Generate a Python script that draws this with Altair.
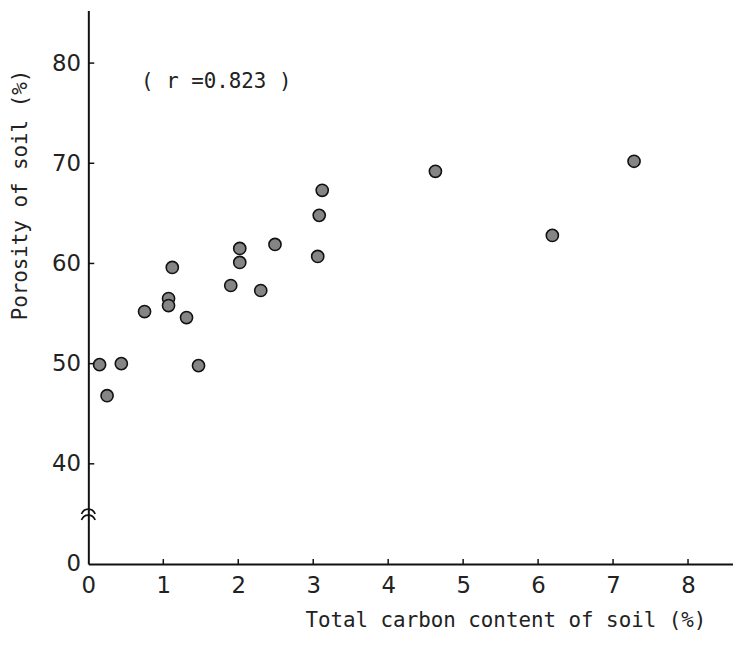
import altair as alt
import pandas as pd

# Data
carbon = [0.15, 0.25, 0.44, 0.75, 1.07, 1.07, 1.12, 1.31, 1.47, 1.90,
          2.02, 2.02, 2.30, 2.49, 3.06, 3.08, 3.12, 4.63, 6.19, 7.28]
porosity = [49.9, 46.8, 50.0, 55.2, 56.5, 55.8, 59.6, 54.6, 49.8, 57.8,
            61.5, 60.1, 57.3, 61.9, 60.7, 64.8, 67.3, 69.2, 62.8, 70.2]
x_ticks = [0, 1, 2, 3, 4, 5, 6, 7, 8]
y_ticks = [30, 40, 50, 60, 70, 80]   # 30 is shown as "0" (broken axis)
y_break = [35.3, 34.7]

df = pd.DataFrame({"carbon": carbon, "porosity": porosity})
xt = pd.DataFrame({"v": x_ticks[1:]})
yt = pd.DataFrame({"v": y_ticks[1:]})
br = pd.DataFrame({"x": [0, 0], "y": y_break})

W, H = 650, 558
xs = alt.Scale(domain=[0, 8.6], nice=False, zero=False)
ys = alt.Scale(domain=[30, 85.24], nice=False, zero=False)

label_font = "DejaVu Sans"
mono = "DejaVu Sans Mono"

points = alt.Chart(df).mark_point(
    filled=True, fill="#858585", stroke="#111", strokeWidth=1.6, size=150, opacity=1
).encode(
    x=alt.X("carbon:Q", scale=xs, title=None,
            axis=alt.Axis(values=x_ticks, format="d", ticks=False, grid=False,
                          domainColor="#111", domainWidth=2, labelFont=label_font,
                          labelFontSize=23, labelColor="#222", labelPadding=11,
                          labelFlush=False)),
    y=alt.Y("porosity:Q", scale=ys, title=None,
            axis=alt.Axis(values=y_ticks, ticks=False, grid=False, domainColor="#111",
                          domainWidth=2, labelFont=label_font, labelFontSize=23,
                          labelColor="#222", labelPadding=8, labelFlush=False,
                          labelExpr="datum.value == 30 ? '0' : datum.label")),
)

xtick_marks = alt.Chart(xt).mark_rule(color="#111", strokeWidth=1.5).encode(
    x=alt.X("v:Q", scale=xs), y=alt.value(H), y2=alt.value(H - 5)
)
ytick_marks = alt.Chart(yt).mark_rule(color="#111", strokeWidth=1.5).encode(
    y=alt.Y("v:Q", scale=ys), x=alt.value(0), x2=alt.value(6)
)

arc_path = "M -1 0.45 C -0.6 -0.5 0.6 -0.5 1 0.45"
breaks = alt.Chart(br).mark_point(
    shape=arc_path, filled=False, stroke="#111", strokeWidth=1.7, size=190, opacity=1
).encode(x=alt.X("x:Q", scale=xs), y=alt.Y("y:Q", scale=ys))

ytitle = alt.Chart(pd.DataFrame({"t": ["Porosity of soil (%)"]})).mark_text(
    angle=270, font=mono, fontSize=21, color="#222", align="center", baseline="middle"
).encode(text="t:N", x=alt.value(-68), y=alt.value(186))

xtitle = alt.Chart(pd.DataFrame({"t": ["Total carbon content of soil (%)"]})).mark_text(
    font=mono, fontSize=21, color="#222", align="center", baseline="middle"
).encode(text="t:N", x=alt.value(421), y=alt.value(616))

note = alt.Chart(pd.DataFrame({"t": ["( r =0.823 )"]})).mark_text(
    font=mono, fontSize=21, color="#222", align="center", baseline="middle"
).encode(text="t:N", x=alt.value(129), y=alt.value(72))

chart = alt.layer(points, xtick_marks, ytick_marks, breaks, ytitle, xtitle, note).properties(
    width=W, height=H,
    autosize=alt.AutoSizeParams(type="none"),
    padding={"left": 81, "top": 0, "right": 0, "bottom": 72},
    background="white",
).configure_view(stroke=None)

chart.save("out.html", embed_options={"renderer": "svg", "actions": False})
